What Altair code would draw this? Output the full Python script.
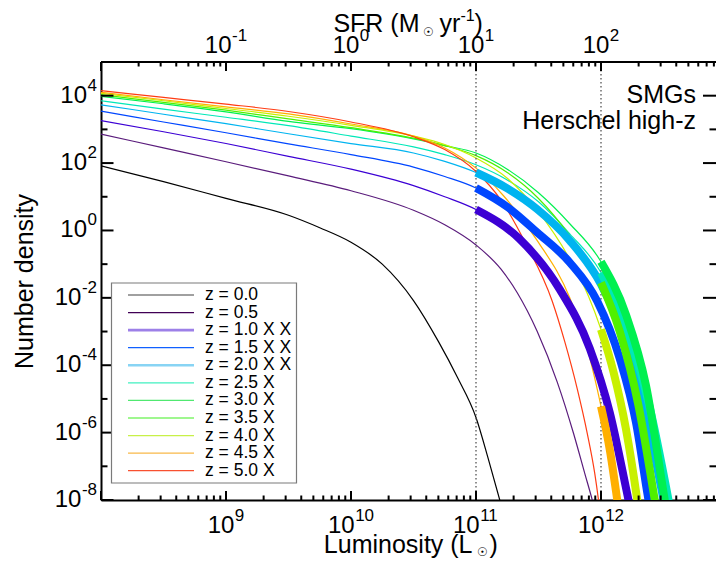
import altair as alt
import pandas as pd

FONT = "Liberation Sans"

# ---------------- data (log10 units) ----------------
REDSHIFTS = ["0.0", "0.5", "1.0", "1.5", "2.0", "2.5", "3.0", "3.5", "4.0", "4.5", "5.0"]
LEGEND_LABELS = ["z = 0.0", "z = 0.5", "z = 1.0 X X", "z = 1.5 X X", "z = 2.0 X X",
                 "z = 2.5 X", "z = 3.0 X", "z = 3.5 X", "z = 4.0 X", "z = 4.5 X", "z = 5.0 X"]
THICK_FROM = [None, None, 11.0, 11.0, 11.0, 12.0, 12.0, 12.0, 12.0, 12.0, 12.0]

logL_z00 = [8.0, 8.5, 9.0, 9.5, 9.75, 10.0, 10.25, 10.5, 10.7, 10.85, 11.0, 11.1, 11.19, 11.24]
logphi_z00 = [1.92, 1.45, 0.95, 0.45, 0.08, -0.35, -1.0, -2.08, -3.3, -4.35, -5.55, -6.8, -8.0, -8.7]

logL_z05 = [8.0, 8.5, 9.0, 9.5, 10.0, 10.5, 10.75, 11.0, 11.2, 11.33, 11.49, 11.65, 11.78, 11.87, 11.93, 11.97]
logphi_z05 = [2.86, 2.45, 2.04, 1.62, 1.18, 0.6, 0.17, -0.43, -1.15, -1.85, -3.0, -4.5, -6.02, -7.21, -8.0, -8.6]

logL_z10 = [8.0, 8.5, 9.0, 9.5, 10.0, 10.5, 10.75, 11.0, 11.35, 11.67, 11.91, 12.07, 12.22, 12.26]
logphi_z10 = [3.26, 2.93, 2.58, 2.2, 1.82, 1.33, 1.0, 0.62, -0.26, -1.75, -3.5, -5.4, -8.0, -8.7]

logL_z15 = [8.0, 8.5, 9.0, 9.5, 10.0, 10.5, 10.75, 11.0, 11.25, 11.49, 11.75, 11.97, 12.15, 12.28, 12.38, 12.42]
logphi_z15 = [3.54, 3.22, 2.9, 2.57, 2.25, 1.88, 1.6, 1.26, 0.7, -0.06, -0.95, -2.1, -3.8, -5.7, -8.0, -8.8]

logL_z20 = [8.0, 8.5, 9.0, 9.5, 10.0, 10.5, 10.75, 11.0, 11.25, 11.49, 11.75, 12.0, 12.2, 12.35, 12.5, 12.54]
logphi_z20 = [3.73, 3.45, 3.17, 2.87, 2.58, 2.3, 2.05, 1.72, 1.25, 0.63, -0.3, -1.6, -3.3, -5.3, -8.0, -8.8]

logL_z25 = [8.0, 8.5, 9.0, 9.5, 10.0, 10.5, 10.75, 11.0, 11.25, 11.5, 11.75, 12.0, 12.2, 12.38, 12.54, 12.58]
logphi_z25 = [3.85, 3.6, 3.36, 3.11, 2.8, 2.48, 2.25, 1.95, 1.5, 0.85, -0.1, -1.25, -2.9, -5.1, -8.0, -8.8]

logL_z30 = [8.0, 8.5, 9.0, 9.5, 10.0, 10.5, 10.75, 11.0, 11.25, 11.5, 11.75, 12.0, 12.2, 12.36, 12.51, 12.55]
logphi_z30 = [3.98, 3.76, 3.52, 3.24, 3.02, 2.72, 2.52, 2.3, 1.82, 1.12, 0.2, -0.93, -2.5, -4.6, -8.0, -8.9]

logL_z35 = [8.0, 8.5, 9.0, 9.5, 10.0, 10.5, 10.75, 11.0, 11.25, 11.5, 11.75, 12.0, 12.15, 12.3, 12.43, 12.47]
logphi_z35 = [4.03, 3.8, 3.57, 3.31, 3.05, 2.74, 2.52, 2.22, 1.72, 0.95, -0.15, -1.55, -3.0, -5.2, -8.0, -8.9]

logL_z40 = [8.0, 8.5, 9.0, 9.5, 10.0, 10.5, 10.75, 11.0, 11.25, 11.5, 11.75, 11.9, 12.0, 12.1, 12.2, 12.29, 12.32]
logphi_z40 = [4.07, 3.85, 3.62, 3.39, 3.12, 2.8, 2.55, 2.15, 1.55, 0.55, -0.85, -1.95, -2.94, -4.2, -5.9, -8.0, -8.8]

logL_z45 = [8.0, 8.5, 9.0, 9.5, 10.0, 10.5, 10.75, 11.0, 11.22, 11.49, 11.75, 11.89, 12.0, 12.07, 12.13, 12.16]
logphi_z45 = [4.10, 3.88, 3.67, 3.46, 3.16, 2.8, 2.45, 1.85, 1.03, -0.3, -2.0, -3.5, -5.22, -6.5, -8.0, -8.8]

logL_z50 = [8.0, 8.5, 9.0, 9.5, 10.0, 10.5, 10.75, 11.0, 11.2, 11.4, 11.61, 11.71, 11.81, 11.89, 11.95, 11.98, 12.0, 12.02]
logphi_z50 = [4.15, 3.95, 3.75, 3.53, 3.22, 2.78, 2.4, 1.75, 0.9, -0.4, -2.1, -3.3, -4.7, -6.02, -7.21, -8.0, -8.6, -9.2]

ANNOT_LABELS = ["SMGs", "Herschel high-z"]
ANNOT_LOGL = [12.76, 12.76]
ANNOT_LOGPHI = [4.02, 3.25]

XTICK_EXP = [9, 10, 11, 12]
YTICK_EXP = [-8, -6, -4, -2, 0, 2, 4]
SFRTICK_EXP = [-1, 0, 1, 2]          # SFR = 1e-10 L
DOTTED_LOGL = [11, 12]

# ---------------- styles ----------------
LINE_COLORS = ["#000000", "#5a1c7c", "#3c00d4", "#0046ff", "#00b4f0", "#00e8b8",
               "#00f050", "#50f000", "#c8f000", "#ffb000", "#ff3c14"]
LEGEND_COLORS = ["#808080", "#400055", "#9d80e8", "#1060ff", "#88d4f4", "#40f0c0",
                 "#50e870", "#40f020", "#c8f048", "#f8b848", "#f85030"]
LEGEND_WIDTHS = [1.3, 1.2, 2.6, 1.2, 2.6, 1.2, 1.2, 1.2, 1.2, 1.2, 1.2]

W, H = 615, 438
XMAX_LOG = 8 + W / 125.0
BASE_FS, EXP_FS = 24, 17

curves = [
    (logL_z00, logphi_z00), (logL_z05, logphi_z05), (logL_z10, logphi_z10),
    (logL_z15, logphi_z15), (logL_z20, logphi_z20), (logL_z25, logphi_z25),
    (logL_z30, logphi_z30), (logL_z35, logphi_z35), (logL_z40, logphi_z40),
    (logL_z45, logphi_z45), (logL_z50, logphi_z50),
]

thin_rows, thick_rows = [], []
for z, start, (lx, ly) in zip(REDSHIFTS, THICK_FROM, curves):
    for a, b in zip(lx, ly):
        thin_rows.append({"z": z, "L": 10.0 ** a, "phi": 10.0 ** b})
        if start is not None and a >= start - 1e-9:
            thick_rows.append({"z": z, "L": 10.0 ** a, "phi": 10.0 ** b})
df_thin = pd.DataFrame(thin_rows)
df_thick = pd.DataFrame(thick_rows)

xscale = alt.Scale(type="log", domain=[1e8, 10 ** XMAX_LOG], nice=False)
yscale = alt.Scale(type="log", domain=[1e-8, 1e5], nice=False)
cscale = alt.Scale(domain=REDSHIFTS, range=LINE_COLORS)

xaxis = alt.Axis(orient="bottom", values=[10.0 ** e for e in XTICK_EXP], labels=False,
                 ticks=False, grid=False, domainWidth=2, domainColor="black", title=None)
yaxis = alt.Axis(orient="left", values=[10.0 ** e for e in YTICK_EXP], labels=False,
                 ticks=False, grid=False, domainWidth=2, domainColor="black",
                 title="Number density", titleFontSize=25, titleFontWeight="normal",
                 titleBaseline="alphabetic", titleX=-69, titleY=H / 2)

X = alt.X("L:Q", scale=xscale)
Y = alt.Y("phi:Q", scale=yscale)

thin = alt.Chart(df_thin).mark_line(clip=True, strokeWidth=1.2, interpolate="monotone").encode(
    x=alt.X("L:Q", scale=xscale, axis=xaxis),
    y=alt.Y("phi:Q", scale=yscale, axis=yaxis),
    color=alt.Color("z:N", scale=cscale, legend=None),
)
thick = alt.Chart(df_thick).mark_line(clip=True, strokeWidth=8, strokeCap="butt", interpolate="monotone").encode(
    x=X, y=Y, color=alt.Color("z:N", scale=cscale, legend=None),
)

dotted = alt.Chart(pd.DataFrame({"L": [10.0 ** e for e in DOTTED_LOGL]})).mark_rule(
    strokeDash=[1.5, 2.5], color="#555555", strokeWidth=1.3).encode(x=X)

ann = alt.Chart(pd.DataFrame({"label": ANNOT_LABELS, "L": [10.0 ** v for v in ANNOT_LOGL],
                              "phi": [10.0 ** v for v in ANNOT_LOGPHI]})).mark_text(
    align="right", baseline="middle", font=FONT, fontSize=25, color="black").encode(
    x=X, y=Y, text="label:N")

# inward ticks
df_ymaj = pd.DataFrame({"phi": [10.0 ** k for k in range(-8, 5, 2)]})
df_ymin = pd.DataFrame({"phi": [10.0 ** k for k in range(-7, 6, 2)]})
df_xmaj = pd.DataFrame({"L": [10.0 ** k for k in range(8, 13)]})
df_xmin = pd.DataFrame({"L": [m * 10.0 ** k for k in range(8, 13) for m in range(2, 10)
                              if m * 10.0 ** k <= 10 ** XMAX_LOG]})


def yticks(df, x0, x1):
    return alt.Chart(df).mark_rule(color="black", strokeWidth=2).encode(
        y=Y, x=alt.value(x0), x2=alt.value(x1))


def xticks(df, y0, y1):
    return alt.Chart(df).mark_rule(color="black", strokeWidth=2).encode(
        x=X, y=alt.value(y0), y2=alt.value(y1))


ticks = [yticks(df_ymaj, 0, 12.5), yticks(df_ymin, 0, 6.5),
         yticks(df_ymaj, W - 13, W), yticks(df_ymin, W - 6.5, W),
         xticks(df_xmaj, H, H - 9), xticks(df_xmin, H, H - 4.5),
         xticks(df_xmaj, 0, 9), xticks(df_xmin, 0, 4.5)]


# tick labels: "10" with a raised exponent
def text_width(s, fs):
    return sum(0.556 if ch.isdigit() else 0.333 for ch in s) * fs


BASE_W = text_width("10", BASE_FS)
label_layers = []
for e in YTICK_EXP:
    es = str(e)
    we = text_width(es, EXP_FS)
    d = pd.DataFrame({"phi": [10.0 ** e]})
    label_layers.append(alt.Chart(d).mark_text(
        align="right", baseline="middle", font=FONT, fontSize=BASE_FS, color="black", text="10").encode(
        y=Y, x=alt.value(-4 - we - 0.5)))
    label_layers.append(alt.Chart(d).mark_text(
        align="right", baseline="middle", font=FONT, fontSize=EXP_FS, color="black", text=es, dy=-10).encode(
        y=Y, x=alt.value(-4)))


def x_labels(exps, shift, ybase):
    out = []
    for e in exps:
        es = str(e)
        total = BASE_W + 0.5 + text_width(es, EXP_FS)
        d = pd.DataFrame({"L": [10.0 ** (e + shift)]})
        out.append(alt.Chart(d).mark_text(
            align="left", baseline="alphabetic", font=FONT, fontSize=BASE_FS, color="black", text="10",
            dx=-total / 2).encode(x=X, y=alt.value(ybase)))
        out.append(alt.Chart(d).mark_text(
            align="left", baseline="alphabetic", font=FONT, fontSize=EXP_FS, color="black", text=es,
            dx=-total / 2 + BASE_W + 0.5).encode(x=X, y=alt.value(ybase - 12)))
    return out


label_layers += x_labels(XTICK_EXP, 0, H + 33)
label_layers += x_labels(SFRTICK_EXP, 10, -9)

one = pd.DataFrame({"a": [0]})
TITLE_L = [10.0 ** 10.5]

top_line = alt.Chart(one).mark_rule(color="black", strokeWidth=2).encode(
    x=alt.value(0), x2=alt.value(W), y=alt.value(0))


def title_part(text, align, dx, dy, size):
    return alt.Chart(pd.DataFrame({"L": TITLE_L, "label": [text]})).mark_text(
        align=align, baseline="alphabetic", font=FONT, fontSize=size, color="black", dx=dx, dy=dy).encode(
        x=X, y=alt.value(0), text="label:N")


titles = [
    title_part("SFR (M", "right", 6, -30, 25),
    title_part("☉", "center", 15, -26, 12),
    title_part("yr", "left", 26, -30, 25),
    title_part("-1", "left", 47, -41, 16),
    title_part(")", "left", 61, -30, 25),
    title_part("Luminosity (L", "right", 59, H + 53, 25),
    title_part("☉", "center", 69, H + 56, 12),
    title_part(")", "left", 76, H + 53, 25),
]

# legend
box = alt.Chart(one).mark_rect(fill="white", stroke="#7a7a7a", strokeWidth=1.2).encode(
    x=alt.value(10.5), x2=alt.value(195.5), y=alt.value(221), y2=alt.value(421))
legend_layers = []
for i, (lab, col, w) in enumerate(zip(LEGEND_LABELS, LEGEND_COLORS, LEGEND_WIDTHS)):
    yy = 233 + i * 17.57
    legend_layers.append(alt.Chart(one).mark_rule(color=col, strokeWidth=w).encode(
        x=alt.value(27), x2=alt.value(93), y=alt.value(yy)))
    legend_layers.append(alt.Chart(one).mark_text(
        align="left", baseline="middle", font=FONT, fontSize=17.5, color="black", text=lab).encode(
        x=alt.value(104), y=alt.value(yy)))

chart = alt.layer(thin, dotted, thick, ann, *ticks, top_line, *label_layers, *titles,
                  box, *legend_layers).properties(
    width=W, height=H,
    padding={"left": 93, "top": 54, "right": 0, "bottom": 59},
    autosize=alt.AutoSizeParams(type="none"),
).configure_view(stroke=None).configure_axis(
    labelFont=FONT, titleFont=FONT, labelColor="black", titleColor="black", grid=False)

chart.save("out.html", embed_options={"renderer": "svg", "actions": False})
